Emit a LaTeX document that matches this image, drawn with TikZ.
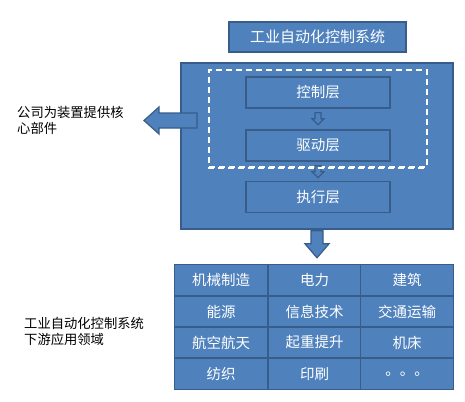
\documentclass[tikz,border=0pt]{standalone}
\usepackage{fontspec}
\setmainfont{Noto Sans CJK SC}
\usetikzlibrary{calc}
\definecolor{fillb}{HTML}{4F81BD}
\definecolor{edgeb}{HTML}{385D8A}
\tikzset{
  bluebox/.style={draw=edgeb, fill=fillb, line width=1.6pt, text=white, inner sep=0pt,
    font=\fontsize{14.5}{16}\selectfont},
  cell/.style={bluebox, minimum width=93pt, minimum height=31pt},
  layer/.style={bluebox, minimum width=144pt, minimum height=31pt},
  blockarrow/.style={draw=edgeb, fill=fillb, line width=1.2pt, line join=miter},
  plain/.style={text=black, align=left, inner sep=0pt, font=\fontsize{13.3}{16}\selectfont},
}
\begin{document}
\begin{tikzpicture}[x=1pt,y=-1pt]
\useasboundingbox (0,0) rectangle (465,401);
% title
\node[bluebox, minimum width=177pt, minimum height=30pt, font=\fontsize{15}{16}\selectfont] (title) at (317.5,37) {工业自动化控制系统};
% big box
\node[bluebox, minimum width=272pt, minimum height=166pt] (big) at (317,146) {};
% dashed group
\node[draw=white, dashed, dash pattern=on 6pt off 4pt, line width=1.6pt, minimum width=218pt, minimum height=97pt, inner sep=0pt] (grp) at (318,118.5) {};
% layers
\node[layer] (ctrl) at (318,92.5) {控制层};
\node[layer] (drv) at (318,145.5) {驱动层};
\node[layer] (exe) at (318,197) {执行层};
% small arrows
\draw[blockarrow] ($(ctrl.south)+(-3,4)$) -- ++(6,0) -- ++(0,6) -- ++(3,0) -- ++(-6,6) -- ++(-6,-6) -- ++(3,0) -- cycle;
\draw[blockarrow] ($(drv.south)+(-3,4)$) -- ++(6,0) -- ++(0,6) -- ++(3,0) -- ++(-6,6) -- ++(-6,-6) -- ++(3,0) -- cycle;
% redraw dashed on top of second arrow
\draw[white, dashed, dash pattern=on 6pt off 4pt, line width=1.6pt] (grp.south west) -- (grp.south east);
% left arrow
\coordinate (ltip) at (144,120.5);
\draw[blockarrow] (ltip) -- ++(15,-13.5) -- ++(0,6) -- ++(38,0) -- ++(0,15) -- ++(-38,0) -- ++(0,6) -- cycle;
\node[plain, anchor=west] (ltext) at (17,120.5) {公司为装置提供核\\心部件};
% big down arrow
\draw[blockarrow] ($(big.south)+(-6,1)$) -- ++(12,0) -- ++(0,13) -- ++(6,0) -- ++(-12,14) -- ++(-12,-14) -- ++(6,0) -- cycle;
% grid
\node[cell] (c11) at (221,280) {机械制造};
\node[cell] (c12) at (314.5,280) {电力};
\node[cell] (c13) at (407,280) {建筑};
\node[cell] (c21) at (221,311.5) {能源};
\node[cell] (c22) at (314.5,311.5) {信息技术};
\node[cell] (c23) at (407,311.5) {交通运输};
\node[cell] (c31) at (221,342.5) {航空航天};
\node[cell] (c32) at (314.5,342.5) {起重提升};
\node[cell] (c33) at (407,342.5) {机床};
\node[cell] (c41) at (221,374) {纺织};
\node[cell] (c42) at (314.5,374) {印刷};
\node[cell] (c43) at (407,374) {。。。};
\node[plain, anchor=west] (btext) at (24,331) {工业自动化控制系统\\下游应用领域};
\end{tikzpicture}
\end{document}
